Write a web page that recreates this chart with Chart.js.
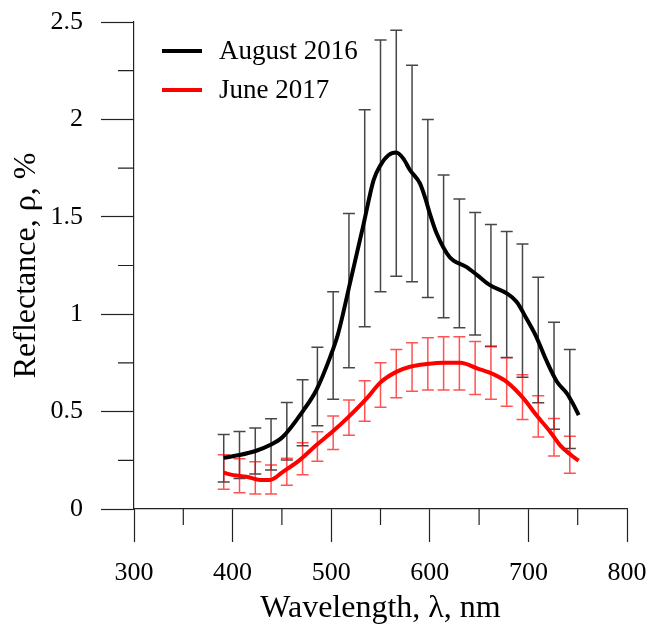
<!DOCTYPE html>
<html>
<head>
<meta charset="utf-8">
<script src="https://cdn.jsdelivr.net/npm/chart.js@4.4.0/dist/chart.umd.min.js"></script>
<style>
  html, body { margin: 0; padding: 0; background: #fff; }
</style>
</head>
<body>
<canvas id="myChart" width="649" height="630"></canvas>
<script>
// wavelengths (nm) where the error bars sit
const barWave = [391, 407, 423, 439, 455, 471, 486, 502, 518, 534, 550, 566, 582, 598, 614, 630, 646, 662, 678, 694, 710, 726, 742];
// August 2016 error bar ends
const augUpper = [0.383, 0.398, 0.416, 0.463, 0.547, 0.663, 0.830, 1.115, 1.517, 2.05, 2.408, 2.458, 2.278, 1.999, 1.715, 1.591, 1.522, 1.461, 1.425, 1.361, 1.190, 0.959, 0.819];
const augLower = [0.139, 0.156, 0.180, 0.200, 0.251, 0.325, 0.427, 0.564, 0.725, 0.935, 1.115, 1.195, 1.166, 1.086, 0.982, 0.930, 0.893, 0.836, 0.778, 0.676, 0.545, 0.410, 0.311];
// June 2017 error bar ends
const junUpper = [0.279, 0.258, 0.243, 0.226, 0.26, 0.340, 0.397, 0.477, 0.559, 0.658, 0.751, 0.819, 0.853, 0.879, 0.884, 0.884, 0.860, 0.833, 0.776, 0.689, 0.581, 0.465, 0.373];
const junLower = [0.101, 0.084, 0.077, 0.077, 0.122, 0.176, 0.245, 0.306, 0.378, 0.451, 0.522, 0.571, 0.604, 0.611, 0.611, 0.611, 0.588, 0.563, 0.528, 0.460, 0.369, 0.272, 0.183];

// mean spectra
const augWave = [391, 407, 424, 438, 451, 472, 485, 499, 507, 519, 533, 543, 550, 558, 566, 573, 580, 590, 595, 600, 607, 620, 637, 648, 661, 678, 688, 698, 708, 718, 729, 739, 745, 751];
const augRefl = [0.263, 0.277, 0.299, 0.328, 0.371, 0.508, 0.611, 0.781, 0.90, 1.158, 1.466, 1.688, 1.765, 1.816, 1.830, 1.80, 1.739, 1.671, 1.602, 1.517, 1.414, 1.294, 1.243, 1.201, 1.149, 1.107, 1.064, 0.978, 0.884, 0.765, 0.653, 0.594, 0.542, 0.482];
const junWave = [391, 401, 414, 428, 438, 451, 468, 485, 502, 516, 536, 550, 566, 580, 597, 614, 631, 648, 664, 678, 695, 708, 722, 732, 742, 751];
const junRefl = [0.186, 0.174, 0.166, 0.149, 0.149, 0.191, 0.251, 0.328, 0.40, 0.465, 0.568, 0.65, 0.704, 0.730, 0.744, 0.751, 0.751, 0.722, 0.693, 0.653, 0.568, 0.482, 0.397, 0.328, 0.282, 0.248];

const xTicks = [300, 400, 500, 600, 700, 800];
const yTicks = [0, 0.5, 1, 1.5, 2, 2.5];

const serif = "'Liberation Serif', 'Times New Roman', serif";
const toPts = (xs, ys) => xs.map((x, i) => ({ x: x, y: ys[i] }));

// error bars drawn through the chart scales
const errorBars = {
  id: 'errorBars',
  beforeDatasetsDraw(chart) {
    const { ctx, scales: { x, y } } = chart;
    const sets = [
      { up: augUpper, lo: augLower, color: 'rgba(0,0,0,0.72)' },
      { up: junUpper, lo: junLower, color: 'rgba(255,0,0,0.68)' }
    ];
    ctx.save();
    ctx.lineWidth = 1.5;
    sets.forEach(s => {
      ctx.strokeStyle = s.color;
      barWave.forEach((w, i) => {
        const px = x.getPixelForValue(w);
        const pu = y.getPixelForValue(s.up[i]);
        const pl = y.getPixelForValue(s.lo[i]);
        ctx.beginPath();
        ctx.moveTo(px, pu); ctx.lineTo(px, pl);
        ctx.moveTo(px - 6, pu); ctx.lineTo(px + 6, pu);
        ctx.moveTo(px - 6, pl); ctx.lineTo(px + 6, pl);
        ctx.stroke();
      });
    });
    ctx.restore();
  }
};

// minor ticks and the legend
const extras = {
  id: 'extras',
  afterDraw(chart) {
    const { ctx, scales: { x, y } } = chart;
    ctx.save();
    ctx.strokeStyle = '#222';
    ctx.lineWidth = 1.2;
    ctx.beginPath();
    for (let v = 350; v < 800; v += 100) {
      const px = x.getPixelForValue(v);
      ctx.moveTo(px, x.top); ctx.lineTo(px, x.top + 16);
    }
    for (let v = 0.25; v < 2.5; v += 0.5) {
      const py = y.getPixelForValue(v);
      ctx.moveTo(y.right, py); ctx.lineTo(y.right - 16, py);
    }
    ctx.stroke();

    ctx.font = '27px ' + serif;
    ctx.fillStyle = '#000';
    ctx.textBaseline = 'middle';
    chart.data.datasets.forEach((ds, i) => {
      const ly = 51 + i * 39;
      ctx.strokeStyle = ds.borderColor;
      ctx.lineWidth = 4;
      ctx.beginPath();
      ctx.moveTo(162, ly); ctx.lineTo(202, ly);
      ctx.stroke();
      ctx.fillText(ds.label, 219, ly + 1);
    });
    ctx.restore();
  }
};

new Chart(document.getElementById('myChart'), {
  type: 'line',
  data: {
    datasets: [{
      label: 'August 2016',
      data: toPts(augWave, augRefl),
      borderColor: '#000',
      borderWidth: 4,
      pointRadius: 0,
      cubicInterpolationMode: 'monotone'
    }, {
      label: 'June 2017',
      data: toPts(junWave, junRefl),
      borderColor: '#ff0000',
      borderWidth: 4,
      pointRadius: 0,
      cubicInterpolationMode: 'monotone'
    }]
  },
  options: {
    responsive: false,
    animation: false,
    layout: { padding: { top: 22, right: 22, left: 0, bottom: 0 } },
    plugins: {
      legend: { display: false },
      tooltip: { enabled: false }
    },
    scales: {
      x: {
        type: 'linear',
        min: 300,
        max: 800,
        afterBuildTicks: s => { s.ticks = xTicks.map(v => ({ value: v })); },
        afterFit: s => { s.height = 121; s.paddingLeft = 0; s.paddingRight = 0; },
        ticks: { font: { family: serif, size: 26 }, color: '#000', padding: 16, callback: v => String(v) },
        grid: { drawOnChartArea: false, tickLength: 33, tickColor: '#222', tickWidth: 1.2 },
        border: { color: '#222', width: 1.2 },
        title: { display: true, text: 'Wavelength, λ, nm', font: { family: serif, size: 32 }, color: '#000', padding: { top: 0, bottom: 2 } }
      },
      y: {
        min: 0,
        max: 2.5,
        afterBuildTicks: s => { s.ticks = yTicks.map(v => ({ value: v })); },
        afterFit: s => { s.width = 134; s.paddingTop = 0; s.paddingBottom = 0; },
        ticks: { font: { family: serif, size: 26 }, color: '#000', padding: 18, callback: v => String(v) },
        grid: { drawOnChartArea: false, tickLength: 33, tickColor: '#222', tickWidth: 1.2 },
        border: { color: '#222', width: 1.2 },
        title: { display: true, text: 'Reflectance, ρ, %', font: { family: serif, size: 32 }, color: '#000', padding: { top: 7, bottom: 0 } }
      }
    }
  },
  plugins: [errorBars, extras]
});
</script>
</body>
</html>
